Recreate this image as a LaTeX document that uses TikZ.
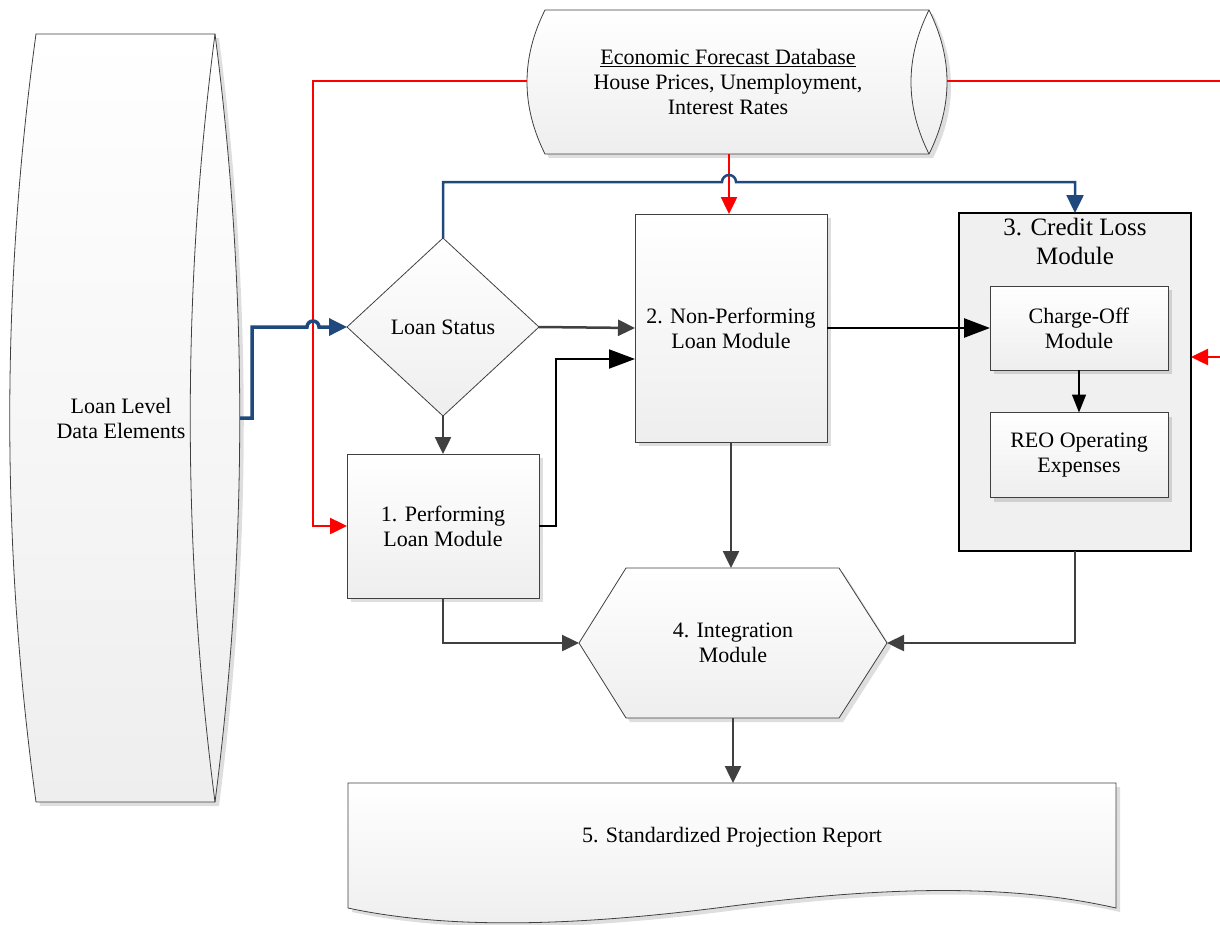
\documentclass[tikz,border=0pt]{standalone}
\usepackage{fontspec}
\setmainfont{Liberation Serif}
\usetikzlibrary{arrows.meta,shapes.geometric,shadows,calc}
\definecolor{myblue}{RGB}{31,73,125}
\definecolor{mygray}{RGB}{64,64,64}
\definecolor{fillgray}{RGB}{238,238,238}
\definecolor{clgray}{RGB}{240,240,240}
\tikzset{
  lbl/.style={font=\fontsize{22}{25}\selectfont, align=center},
  shp/.style={draw=mygray, line width=0.8pt, top color=white, bottom color=fillgray,
    drop shadow={shadow xshift=4pt, shadow yshift=-4pt, fill=black, opacity=0.13}},
  boxnode/.style={shp, lbl, rectangle, inner sep=0pt, outer sep=0pt},
  ghost/.style={lbl, rectangle, inner sep=0pt, outer sep=0pt},
  garr/.style={draw=mygray, line width=2.5pt, -{Triangle[length=17pt,width=16pt]}},
  karr/.style={draw=black, line width=2.5pt, -{Triangle[length=26pt,width=19pt]}},
  rarr/.style={draw=red, line width=2.5pt, -{Triangle[length=17pt,width=16pt]}},
  rline/.style={draw=red, line width=2.5pt},
  barr/.style={draw=myblue, line width=2.5pt, -{Triangle[length=18pt,width=17pt]}},
}
\begin{document}
\begin{tikzpicture}[x=1pt,y=-1pt]
\useasboundingbox (0,0) rectangle (1220,924);

% Loan level data elements (vertical cylinder)
\path[shp] (36,34) -- (215,34) .. controls (248,290) and (248,546) .. (215,802)
  -- (36,802) .. controls (1,546) and (1,290) .. (36,34) -- cycle;
\draw[mygray, line width=0.8pt] (215,34) .. controls (182,290) and (182,546) .. (215,802);
\node[ghost] (lld) at (121,418) {Loan Level\\Data Elements};
\coordinate (lldE) at (240,418);

% Economic forecast database (horizontal cylinder)
\path[shp] (545,10) -- (929,10) .. controls (953,58) and (953,106) .. (929,154)
  -- (545,154) .. controls (521,106) and (521,58) .. (545,10) -- cycle;
\draw[mygray, line width=0.8pt] (929,10) .. controls (905,58) and (905,106) .. (929,154);
\node[ghost] (db) at (728,82) {\underline{Economic Forecast Database}\\House Prices, Unemployment,\\Interest Rates};
\coordinate (dbW) at (527,81);
\coordinate (dbE) at (947,81);
\coordinate (dbS) at (729,154);
\coordinate (redEnd) at (1220,81);
\coordinate (redIn) at (1220,357);

% Loan status diamond
\node[diamond, draw=mygray, line width=0.8pt, top color=white, bottom color=fillgray,
  lbl, inner sep=0pt, outer sep=0pt, aspect=1.08, minimum width=192pt, minimum height=178pt]
  (ls) at (443,327) {Loan Status};

% Boxes
\node[boxnode, minimum width=192pt, minimum height=144pt] (perf) at (443,526) {1. Performing\\Loan Module};
\node[boxnode, minimum width=192pt, minimum height=228pt] (np) at (731,328) {2. Non-Performing\\Loan Module};

% Credit loss module
\node[draw=black, fill=clgray, line width=2pt, rectangle, inner sep=0pt, outer sep=0pt,
  minimum width=232pt, minimum height=338pt] (cl) at (1075,382) {};
\node[ghost, font=\fontsize{25}{29}\selectfont] (cltitle) at (1075,241) {3. Credit Loss\\Module};
\node[boxnode, minimum width=178pt, minimum height=84pt] (co) at (1079,328) {Charge-Off\\Module};
\node[boxnode, minimum width=178pt, minimum height=85pt] (reo) at (1079,455) {REO Operating\\Expenses};

% Integration hexagon
\path[shp] (579,643) -- (626,568) -- (839,568) -- (887,643) -- (839,718) -- (626,718) -- cycle;
\node[ghost, minimum width=308pt, minimum height=150pt] (integ) at (733,643) {4. Integration\\Module};

% Report document
\path[shp] (348,783) -- (1116,783) -- (1116,908)
  .. controls (1010,884) and (890,886) .. (732,906)
  .. controls (580,926) and (450,930) .. (348,908) -- cycle;
\node[ghost] (rep) at (732,837) {5. Standardized Projection Report};
\coordinate (repTop) at (733,783);

% Red connectors
\draw[rarr] (dbW) -- (313,81) |- (perf.west);
\draw[rline] (dbE) -- (redEnd);
\draw[rarr] (redIn) -- (redIn -| cl.east);
\draw[rarr] (dbS) -- (dbS |- np.north);

% Blue connectors
\draw[barr, line width=3.5pt] (lldE) -- (252,418) -- (252,327) -- (307,327)
  arc[start angle=180, end angle=360, radius=6] -- (ls.west);
\draw[barr] (ls.north) -- (443,182) -- (722,182)
  arc[start angle=180, end angle=360, radius=7] -- (1075,182) -- (cl.north);

% Gray / black connectors
\draw[garr] (ls.east) -- (np.west);
\draw[garr] (ls.south) -- (perf.north);
\draw[karr, line width=2pt] (perf.east) -- ++(17,0) |- ($(np.west)+(0,31)$);
\draw[karr] (np.east) -- (co.west);
\draw[karr, line width=1.5pt, -{Triangle[length=18pt,width=14pt]}] (co.south) -- (reo.north);
\draw[garr] (np.south) -- (np.south |- integ.north);
\draw[garr] (cl.south) |- (integ.east);
\draw[garr] (perf.south) |- (integ.west);
\draw[garr] (integ.south) -- (repTop);
\end{tikzpicture}
\end{document}
